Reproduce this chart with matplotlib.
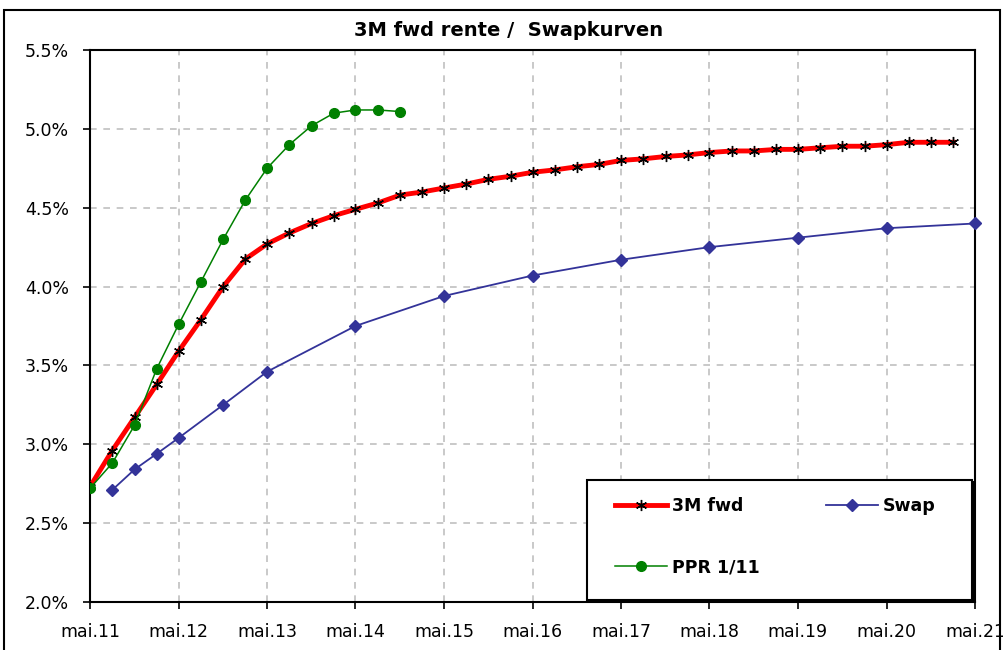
import numpy as np
import pandas as pd
import matplotlib
matplotlib.use("Agg")
import matplotlib.pyplot as plt
from matplotlib.patches import Rectangle

START = "2011-05-01"

# 3M forward rate, quarterly from mai.11 (percent)
fwd_rate = [2.73, 2.96, 3.17, 3.38, 3.59, 3.79, 4.00, 4.175, 4.27, 4.34,
            4.40, 4.45, 4.49, 4.53, 4.58, 4.60, 4.625, 4.65, 4.68, 4.70,
            4.725, 4.74, 4.76, 4.775, 4.80, 4.81, 4.825, 4.835, 4.85, 4.86,
            4.86, 4.87, 4.87, 4.88, 4.89, 4.89, 4.90, 4.915, 4.915, 4.915]

# swap curve, maturity in months
swap_months = [3, 6, 9, 12, 18, 24, 36, 48, 60, 72, 84, 96, 108, 120]
swap_rate = [2.71, 2.84, 2.94, 3.04, 3.25, 3.46, 3.75, 3.94, 4.07, 4.17,
             4.25, 4.31, 4.37, 4.40]

# PPR 1/11, quarterly from mai.11
ppr_rate = [2.72, 2.88, 3.12, 3.48, 3.76, 4.03, 4.30, 4.55, 4.75, 4.90,
            5.02, 5.10, 5.12, 5.12, 5.11]

tick_labels = ["mai.11", "mai.12", "mai.13", "mai.14", "mai.15", "mai.16",
               "mai.17", "mai.18", "mai.19", "mai.20", "mai.21"]

fwd_dates = pd.date_range(START, periods=len(fwd_rate), freq="3MS")
ppr_dates = pd.date_range(START, periods=len(ppr_rate), freq="3MS")
swap_dates = [pd.Timestamp(START) + pd.DateOffset(months=m) for m in swap_months]
tick_dates = pd.date_range(START, periods=len(tick_labels), freq="12MS")

fig = plt.figure(figsize=(10.04, 6.5), dpi=100)
ax = fig.add_axes([0.0896, 0.074, 0.8815, 0.849])

# outer chart border
fig.patches.append(Rectangle((0.004, -0.02), 0.992, 1.005, transform=fig.transFigure,
                             fill=False, ec="black", lw=1.5))

fig.text(0.507, 1 - 30 / 650, "3M fwd rente /  Swapkurven", ha="center", va="center",
         fontsize=14, fontweight="bold")

l_fwd, = ax.plot(fwd_dates, fwd_rate, color="red", lw=3.5, marker=(6, 2, 0), ms=8,
                 mec="black", mew=1.0, label="3M fwd", zorder=3)
l_swap, = ax.plot(swap_dates, swap_rate, color="#333399", lw=1.3, marker="D", ms=6.5,
                  label="Swap", zorder=3, clip_on=False)
l_ppr, = ax.plot(ppr_dates, ppr_rate, color="#008000", lw=1.1, marker="o", ms=7,
                 label="PPR 1/11", zorder=3.5)

ax.set_xlim(tick_dates[0], tick_dates[-1])
ax.set_xticks(tick_dates)
ax.set_xticklabels(tick_labels)
ax.set_ylim(2.0, 5.5)
yt = np.arange(2.0, 5.51, 0.5)
ax.set_yticks(yt)
ax.set_yticklabels([f"{v:.1f}%" for v in yt])
ax.tick_params(labelsize=12.5, length=5, width=1.2, pad=10, direction="out")

ax.grid(True, color="#c0c0c0", ls=(0, (4, 4)), lw=1.2)
ax.set_axisbelow(True)
for s in ax.spines.values():
    s.set_linewidth(1.5)
    s.set_color("black")

# legend box (Excel style, bottom right)
ax.add_patch(Rectangle((0.5645, 0.0), 0.4355, 0.217, transform=ax.transAxes,
                       fc="black", ec="black", lw=1.5, zorder=4))
ax.add_patch(Rectangle((0.5616, 0.004), 0.4354, 0.217, transform=ax.transAxes,
                       fc="white", ec="black", lw=1.5, zorder=4))
leg = ax.legend([l_fwd, l_ppr, l_swap], ["3M fwd", "PPR 1/11", "Swap"], ncol=2,
                loc="upper left", bbox_to_anchor=(0.593, 0.19), frameon=False,
                prop={"weight": "bold", "size": 12.5}, handlelength=3.0,
                handletextpad=0.3, columnspacing=3.8, labelspacing=2.5,
                borderpad=0, borderaxespad=0)
leg.set_zorder(5)

fig.savefig("out.png", dpi=100)
